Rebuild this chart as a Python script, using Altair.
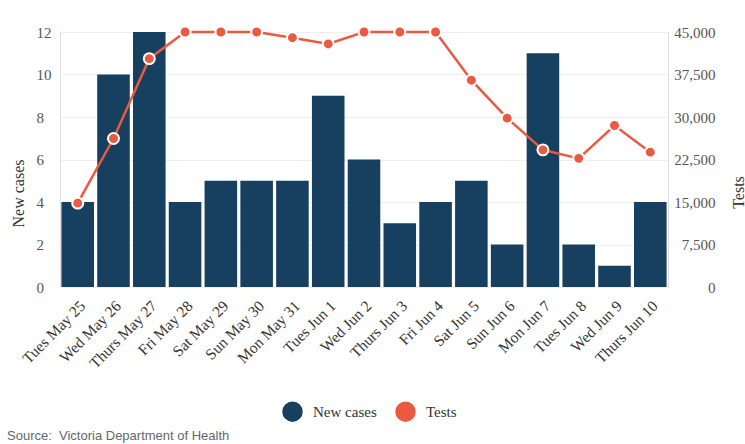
import altair as alt
import pandas as pd

dates = ["Tues May 25", "Wed May 26", "Thurs May 27", "Fri May 28", "Sat May 29",
         "Sun May 30", "Mon May 31", "Tues Jun 1", "Wed Jun 2", "Thurs Jun 3",
         "Fri Jun 4", "Sat Jun 5", "Sun Jun 6", "Mon Jun 7", "Tues Jun 8",
         "Wed Jun 9", "Thurs Jun 10"]
new_cases = [4, 10, 12, 4, 5, 5, 5, 9, 6, 3, 4, 5, 2, 11, 2, 1, 4]
tests = [14800, 26200, 40300, 45000, 45000, 45000, 44000, 42900, 45000, 45000,
         45000, 36500, 29800, 24200, 22700, 28500, 23800]
case_ticks = [0, 2, 4, 6, 8, 10, 12]
test_ticks = [0, 7500, 15000, 22500, 30000, 37500, 45000]

NAVY = "#173f5f"
RED = "#ea5a40"
FONT = "Liberation Serif"

df = pd.DataFrame({"date": dates, "cases": new_cases, "tests": tests})

x_enc = alt.X("date:N", sort=dates, title=None,
              scale=alt.Scale(paddingInner=0.09, paddingOuter=0.04),
              axis=alt.Axis(labelAngle=315, labelAlign="right", labelBaseline="middle",
                            domain=False, ticks=False, labelPadding=16, labelOffset=5,
                            labelFontSize=15.5, labelColor="#333"))

color_enc = alt.Color("series:N",
                      scale=alt.Scale(domain=["New cases", "Tests"], range=[NAVY, RED]),
                      legend=alt.Legend(title=None, orient="none", direction="horizontal",
                                        legendX=222, legendY=369, symbolType="circle",
                                        symbolSize=420, symbolStrokeWidth=0,
                                        symbolOpacity=1, labelFontSize=15,
                                        labelColor="#333", columnPadding=18,
                                        labelOffset=10))

bars = alt.Chart(df).transform_calculate(series="'New cases'").mark_bar(opacity=1).encode(
    x=x_enc,
    y=alt.Y("cases:Q", scale=alt.Scale(domain=[0, 12], nice=False),
            axis=alt.Axis(values=case_ticks, title="New cases", grid=True,
                          gridColor="#eeeeee", domain=False, ticks=False,
                          labelAlign="left", labelPadding=24, labelFontSize=15,
                          labelColor="#555", titleFontSize=16, titleFontWeight="normal",
                          titleColor="#333", titleAngle=270, titleX=-42, titleY=161,
                          titleAlign="center", titleBaseline="middle")),
    color=color_enc,
)

tests_y = alt.Y("tests:Q", scale=alt.Scale(domain=[0, 45000], nice=False),
                axis=alt.Axis(orient="right", values=test_ticks,
                              labelExpr="format(datum.value, ',')",
                              title="Tests", grid=False, domain=False, ticks=False,
                              labelAlign="right", labelPadding=47, labelFontSize=15,
                              labelColor="#555", titleFontSize=16,
                              titleFontWeight="normal", titleColor="#333",
                              titleAngle=270, titleX=70, titleY=160,
                              titleAlign="center", titleBaseline="middle"))

line = alt.Chart(df).mark_line(color=RED, strokeWidth=2.5).encode(x=x_enc, y=tests_y)
points = alt.Chart(df).transform_calculate(series="'Tests'").mark_circle(
    size=120, stroke="white", strokeWidth=2, opacity=1).encode(
    x=x_enc, y=tests_y, color=color_enc)

chart = alt.layer(bars, alt.layer(line, points)).resolve_scale(y="independent").properties(
    width=608, height=255,
    autosize=alt.AutoSizeParams(type="none"),
    padding={"left": 60, "top": 32, "right": 77, "bottom": 157},
    background="white",
    title=alt.TitleParams("Source:\u00a0 Victoria Department of Health", orient="bottom",
                          anchor="start", frame="group", dx=-53, dy=-22, offset=30,
                          baseline="top",
                          font="Liberation Sans", fontSize=13, fontWeight="normal",
                          color="#666"),
).configure_view(strokeWidth=0, stroke="transparent").configure(font=FONT)

chart.save("out.html", embed_options={"renderer": "svg", "actions": False})
